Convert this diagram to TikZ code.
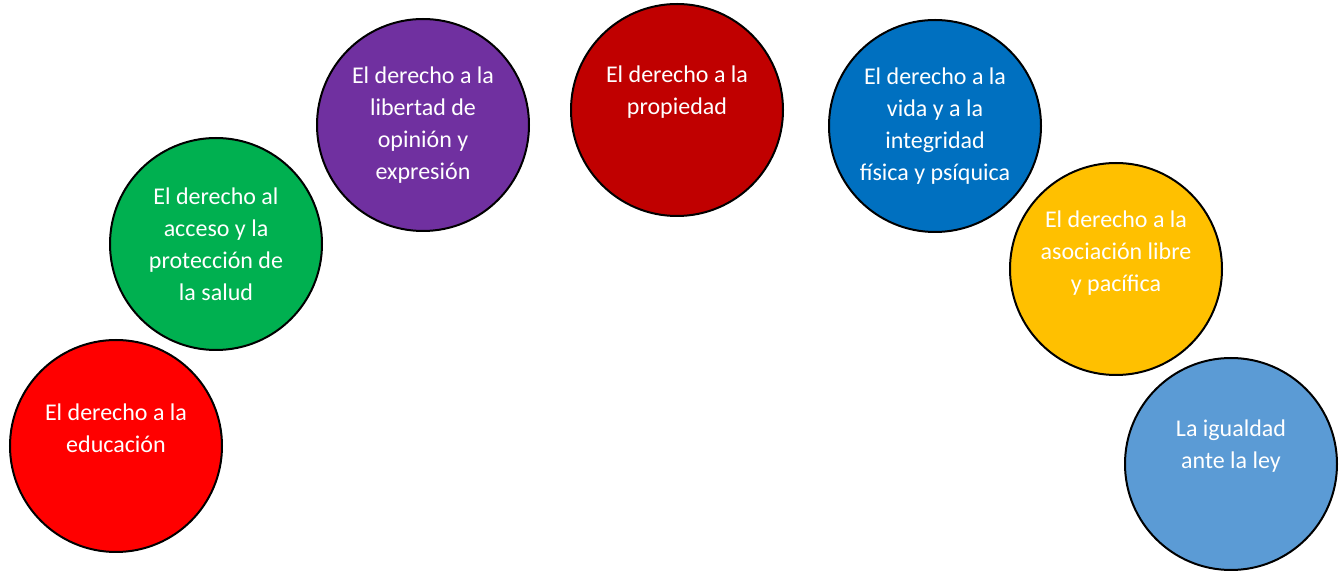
\documentclass[tikz,border=0pt]{standalone}
\usepackage{fontspec}
\setmainfont{Carlito}
\usepackage{tikz}
\usetikzlibrary{calc}
\usetikzlibrary{positioning}

\definecolor{rojo}{HTML}{FF0000}
\definecolor{verde}{HTML}{00B050}
\definecolor{morado}{HTML}{7030A0}
\definecolor{granate}{HTML}{C00000}
\definecolor{azul}{HTML}{0070C0}
\definecolor{amarillo}{HTML}{FFC000}
\definecolor{celeste}{HTML}{5B9BD5}

\begin{document}
\begin{tikzpicture}[x=0.5pt,y=-0.5pt]
\tikzstyle{bola}=[circle,draw,line width=1pt,minimum size=106pt,inner sep=0pt]
\tikzstyle{txt}=[align=center,text=white,inner sep=0pt,font=\fontsize{12}{16}\selectfont]
\useasboundingbox (0, 0) rectangle (1340, 571);
% circulos
\node[bola,fill=rojo] at(116, 446) (educacion) {};
\node[bola,fill=verde] at(216, 244) (salud) {};
\node[bola,fill=morado] at(423, 125) (opinion) {};
\node[bola,fill=granate] at(677, 110) (propiedad) {};
\node[bola,fill=azul] at(935, 126) (vida) {};
\node[bola,fill=amarillo] at(1116, 269) (asociacion) {};
\node[bola,fill=celeste] at(1231, 464) (igualdad) {};
% textos
\node[txt] at([yshift=9pt]educacion.center) (educacion-t) {El derecho a la\\educación};
\node[txt] at([yshift=0pt]salud.center) (salud-t) {El derecho al\\acceso y la\\protección de\\la salud};
\node[txt] at([yshift=0pt]opinion.center) (opinion-t) {El derecho a la\\libertad de\\opinión y\\expresión};
\node[txt] at([yshift=9pt]propiedad.center) (propiedad-t) {El derecho a la\\propiedad};
\node[txt] at([yshift=0pt]vida.center) (vida-t) {El derecho a la\\vida y a la\\integridad\\física y psíquica};
\node[txt] at([yshift=8pt]asociacion.center) (asociacion-t) {El derecho a la\\asociación libre\\y pacífica};
\node[txt] at([yshift=9pt]igualdad.center) (igualdad-t) {La igualdad\\ante la ley};
\end{tikzpicture}
\end{document}
